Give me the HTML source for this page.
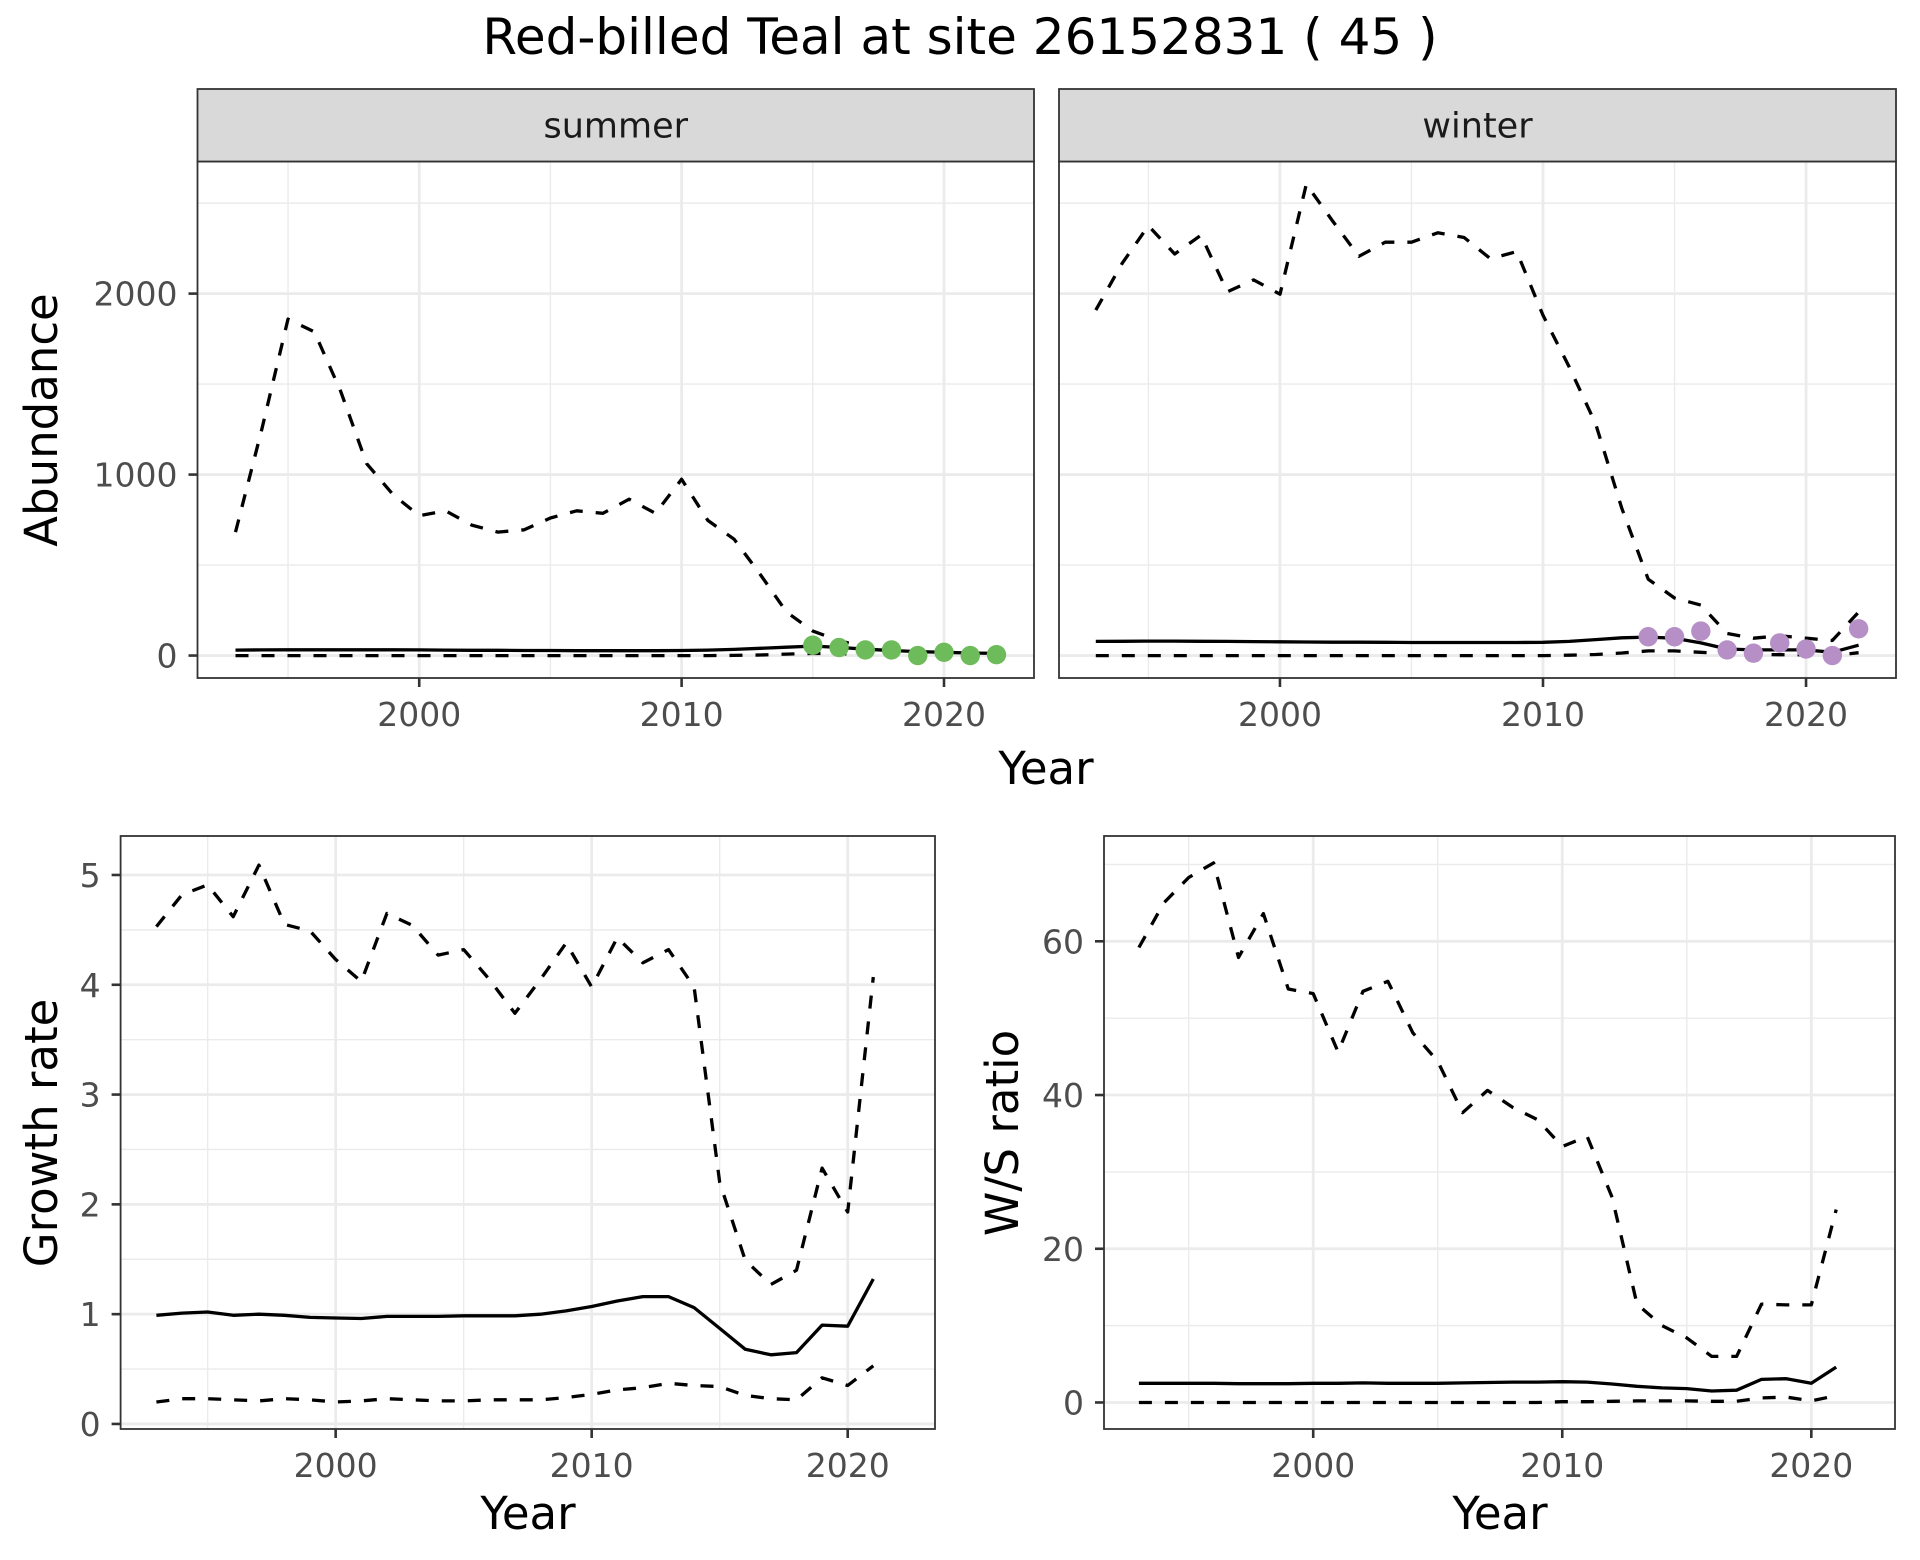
<!DOCTYPE html>
<html><head><meta charset="utf-8">
<style>
html,body{margin:0;padding:0;background:#fff;}
svg{display:block;font-family:"DejaVu Sans","Liberation Sans",sans-serif;}
</style></head>
<body>
<svg id="chart" width="1920" height="1560" viewBox="0 0 1920 1560" xmlns="http://www.w3.org/2000/svg">
<rect width="1920" height="1560" fill="#fff"/>
<text x="960" y="54" font-size="50" text-anchor="middle" fill="#000">Red-billed Teal at site 26152831 ( 45 )</text>
<text transform="translate(57,420) rotate(-90)" font-size="45" text-anchor="middle" fill="#000">Abundance</text>
<text x="1046" y="784" font-size="45" text-anchor="middle" fill="#000">Year</text>
<text transform="translate(57,1133) rotate(-90)" font-size="45" text-anchor="middle" fill="#000">Growth rate</text>
<text x="528" y="1529" font-size="45" text-anchor="middle" fill="#000">Year</text>
<text transform="translate(1018,1133) rotate(-90)" font-size="45" text-anchor="middle" fill="#000">W/S ratio</text>
<text x="1500" y="1529" font-size="45" text-anchor="middle" fill="#000">Year</text>
</svg>
<script>
// ---- data ----
const yearsAbund = [1993,1994,1995,1996,1997,1998,1999,2000,2001,2002,2003,2004,2005,2006,2007,2008,2009,2010,2011,2012,2013,2014,2015,2016,2017,2018,2019,2020,2021,2022];
const summerUpper = [682,1250,1859,1789,1463,1060,890,773,800,721,682,695,760,800,786,864,786,974,747,643,448,240,135,83,45,25,15,10,8,6];
const summerMid = [30,31,32,32,32,32,32,31,30,29,29,28,28,27,27,27,27,28,30,34,40,46,52,45,35,28,22,18,14,12];
const summerLower = [0,0,0,0,0,0,0,0,0,0,0,0,0,0,0,0,0,0,0,1,3,8,12,10,7,5,3,2,1,1];
const summerObsYears = [2015,2016,2017,2018,2019,2020,2021,2022];
const summerObs = [57,44,31,31,0,18,0,5];
const winterUpper = [1909,2167,2375,2219,2323,2010,2076,1997,2604,2401,2206,2284,2284,2336,2310,2193,2232,1880,1594,1281,812,422,318,279,122,96,109,96,83,240];
const winterMid = [78,79,80,80,79,78,77,76,75,74,74,73,72,72,72,72,72,73,78,88,98,102,96,70,36,31,31,31,18,57];
const winterLower = [0,0,0,0,0,0,0,0,0,0,0,0,0,0,0,0,0,0,2,6,14,26,26,18,10,6,5,4,0,16];
const winterObsYears = [2014,2015,2016,2017,2018,2019,2020,2021,2022];
const winterObs = [104,104,135,31,13,70,36,0,148];
const yearsRatio = [1993,1994,1995,1996,1997,1998,1999,2000,2001,2002,2003,2004,2005,2006,2007,2008,2009,2010,2011,2012,2013,2014,2015,2016,2017,2018,2019,2020,2021];
const growthUpper = [4.53,4.82,4.91,4.62,5.09,4.55,4.49,4.23,4.03,4.65,4.54,4.27,4.32,4.05,3.74,4.05,4.38,3.98,4.43,4.2,4.32,3.98,2.2,1.49,1.27,1.4,2.33,1.93,4.07];
const growthMid = [0.99,1.01,1.02,0.99,1.0,0.99,0.97,0.965,0.96,0.98,0.98,0.98,0.985,0.985,0.985,1.0,1.03,1.07,1.12,1.16,1.16,1.06,0.87,0.68,0.63,0.65,0.9,0.89,1.32];
const growthLower = [0.2,0.23,0.23,0.22,0.21,0.23,0.22,0.2,0.21,0.23,0.22,0.21,0.21,0.22,0.22,0.22,0.24,0.27,0.31,0.33,0.37,0.35,0.34,0.26,0.23,0.22,0.42,0.35,0.53];
const ratioUpper = [59.2,65,68.3,70.2,57.9,63.6,53.8,53.2,45.6,53.5,54.8,48.1,44.4,37.7,40.6,38.4,36.8,33.3,34.6,26.7,12.8,10,8.4,6,6,12.8,12.7,12.7,25.1];
const ratioMid = [2.5,2.5,2.5,2.5,2.45,2.45,2.45,2.5,2.5,2.55,2.5,2.5,2.5,2.55,2.6,2.65,2.65,2.7,2.65,2.4,2.1,1.9,1.8,1.5,1.6,3.0,3.1,2.5,4.6];
const ratioLower = [0,0,0,0,0,0,0,0,0,0,0,0,0,0,0,0,0,0.1,0.1,0.15,0.2,0.2,0.2,0.15,0.15,0.6,0.7,0.2,0.9];
const abundTicks = [0,1000,2000];
const growthTicks = [0,1,2,3,4,5];
const ratioTicks = [0,20,40,60];
const xTicks = [2000,2010,2020];

const NS = 'http://www.w3.org/2000/svg';
const svg = document.getElementById('chart');
function mk(tag, attrs, parent){
  const e = document.createElementNS(NS, tag);
  for (const k in attrs) e.setAttribute(k, attrs[k]);
  (parent||svg).appendChild(e);
  return e;
}
function panel(p){
  const g = mk('g', {});
  
  
  const sx = v => p.x0 + (v - p.xmin) / (p.xmax - p.xmin) * (p.x1 - p.x0);
  const sy = v => p.y1 - (v - p.ymin) / (p.ymax - p.ymin) * (p.y1 - p.y0);
  mk('rect', {x:p.x0, y:p.y0, width:p.x1-p.x0, height:p.y1-p.y0, fill:'#fff'}, g);
  for (let i=0;i<xTicks.length+1;i++){
    const v = xTicks[0] - 5 + i*10;
    if (v>p.xmin && v<p.xmax){
      const l = mk('line', {x1:sx(v), x2:sx(v), y1:p.y0, y2:p.y1, stroke:'#EBEBEB', 'stroke-width':1.4}, g);
      
      
    }
  }
  for (let i=0;i<=p.yticks.length;i++){
    const step = p.yticks[1]-p.yticks[0];
    const v = p.yticks[0] + step*(i+0.5);
    if (v>p.ymin && v<p.ymax){
      const l = mk('line', {x1:p.x0, x2:p.x1, y1:sy(v), y2:sy(v), stroke:'#EBEBEB', 'stroke-width':1.4}, g);
      
      
    }
  }
  xTicks.forEach(v=>{
    const l = mk('line', {x1:sx(v), x2:sx(v), y1:p.y0, y2:p.y1, stroke:'#EBEBEB', 'stroke-width':2.8}, g);
    
    
  });
  p.yticks.forEach(v=>{
    const l = mk('line', {x1:p.x0, x2:p.x1, y1:sy(v), y2:sy(v), stroke:'#EBEBEB', 'stroke-width':2.8}, g);
    
    
  });
  const series = [[p.upper,true,'upper-bound-line'],[p.lower,true,'lower-bound-line'],[p.mid,false,'estimate-line']];
  series.forEach(([vals,dash,nm])=>{
    const d = vals.map((v,i)=>(i?'L':'M')+sx(p.years[i]).toFixed(1)+','+sy(v).toFixed(1)).join('');
    const path = mk('path', {d:d, fill:'none', stroke:'#000', 'stroke-width':3.3, 'stroke-linejoin':'round'}, g);
    if (dash) path.setAttribute('stroke-dasharray','13 13');
    
    
  });
  if (p.obs){
    p.obs.forEach((v,i)=>{
      const c = mk('circle', {cx:sx(p.obsYears[i]), cy:sy(v), r:9.7, fill:p.color}, g);
      
      
    });
  }
  mk('rect', {x:p.x0, y:p.y0, width:p.x1-p.x0, height:p.y1-p.y0, fill:'none', stroke:'#333', 'stroke-width':1.8}, g);
  xTicks.forEach(v=>{
    mk('line', {x1:sx(v), x2:sx(v), y1:p.y1, y2:p.y1+9, stroke:'#333', 'stroke-width':2.6}, g);
    const t = mk('text', {x:sx(v), y:p.y1+48, 'font-size':33, 'text-anchor':'middle', fill:'#4D4D4D'}, g);
    t.textContent = v;
    
    
  });
  if (p.showY){
    p.yticks.forEach(v=>{
      mk('line', {x1:p.x0-9, x2:p.x0, y1:sy(v), y2:sy(v), stroke:'#333', 'stroke-width':2.6}, g);
      const t = mk('text', {x:p.x0-20, y:sy(v)+12, 'font-size':33, 'text-anchor':'end', fill:'#4D4D4D'}, g);
      t.textContent = v;
      
      
    });
  }
  if (p.strip){
    const s = mk('rect', {x:p.x0, y:p.stripTop, width:p.x1-p.x0, height:p.y0-p.stripTop, fill:'#D9D9D9', stroke:'#333', 'stroke-width':1.8}, g);
    
    
    const t = mk('text', {x:(p.x0+p.x1)/2, y:(p.stripTop+p.y0)/2+12, 'font-size':35, 'text-anchor':'middle', fill:'#1A1A1A'}, g);
    t.textContent = p.strip;
    
    
  }
}
panel({name:'summer', x0:197.5, x1:1034, y0:161.5, y1:678, xmin:1991.55, xmax:2023.43, ymin:-124, ymax:2730,
  years:yearsAbund, upper:summerUpper, mid:summerMid, lower:summerLower, obs:summerObs, obsYears:summerObsYears, color:'#6DBB5A',
  yticks:abundTicks, showY:true, strip:'summer', stripTop:89});
panel({name:'winter', x0:1059, x1:1896, y0:161.5, y1:678, xmin:1991.6, xmax:2023.42, ymin:-124, ymax:2730,
  years:yearsAbund, upper:winterUpper, mid:winterMid, lower:winterLower, obs:winterObs, obsYears:winterObsYears, color:'#B68FC7',
  yticks:abundTicks, showY:false, strip:'winter', stripTop:89});
panel({name:'growth', x0:120.6, x1:935, y0:836, y1:1429, xmin:1991.6, xmax:2023.41, ymin:-0.046, ymax:5.355,
  years:yearsRatio, upper:growthUpper, mid:growthMid, lower:growthLower, yticks:growthTicks, showY:true});
panel({name:'ratio', x0:1104, x1:1895, y0:836, y1:1429, xmin:1991.6, xmax:2023.36, ymin:-3.45, ymax:73.7,
  years:yearsRatio, upper:ratioUpper, mid:ratioMid, lower:ratioLower, yticks:ratioTicks, showY:true});
</script>
</body></html>
